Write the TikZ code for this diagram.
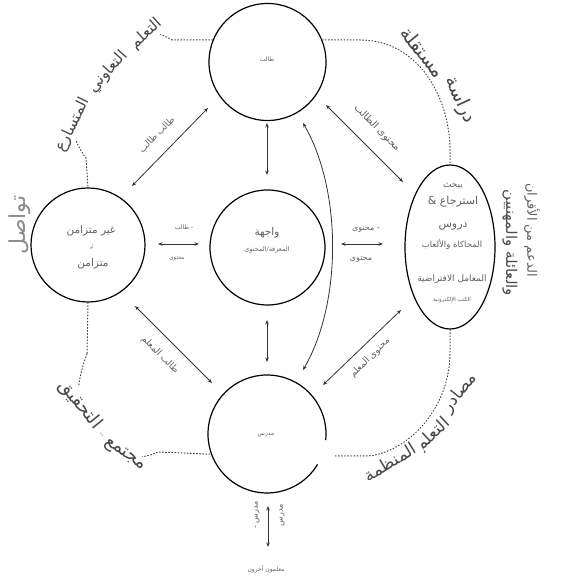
\documentclass[tikz,border=0pt]{standalone}
\usepackage{fontspec}
\setmainfont{DejaVu Sans}
\newfontfamily\ar[Script=Arabic]{DejaVu Sans}
\TeXXeTstate=1
\usetikzlibrary{arrows.meta,shapes.geometric}
\begin{document}
\begin{tikzpicture}[x=1pt,y=1pt,
  circ/.style={circle,draw=black,line width=1.2pt,inner sep=0pt},
  ell/.style={ellipse,draw=black,line width=1.2pt,inner sep=0pt},
  arr/.style={draw=black!80,line width=0.8pt,{Stealth[length=4.5pt,width=3.5pt]}-{Stealth[length=4.5pt,width=3.5pt]}},
  dotline/.style={draw=black!75,line width=1pt,dash pattern=on 0.9pt off 2.2pt,line cap=round},
  big/.style={text=black!72,font=\ar\fontsize{#1}{#1}\selectfont,inner ysep=2pt,inner xsep=6pt,fill=white},
  sm/.style={text=black!62,font=\ar\fontsize{#1}{#1}\selectfont,inner sep=1pt},
]
\useasboundingbox (0,0) rectangle (560,580);
\fill[white] (0,0) rectangle (560,580);

% main shapes
\node[circ,minimum size=117pt] (T) at (267.5,518) {};
\node[circ,minimum size=115pt] (C) at (267.5,332.5) {};
\node[circle,inner sep=0pt,minimum size=118pt] (B) at (267,146) {};
\draw[black,line width=1.2pt] ([shift={(-6:59pt)}]B.center) arc[start angle=-6,end angle=329,radius=59pt];
\node[circ,minimum size=114pt] (L) at (88,335) {};
\node[ell,minimum width=90pt,minimum height=164pt] (E) at (450,333) {};

% texts inside shapes
\node[sm=6] (tT) at (267,520) {طالب};
\node[sm=10.5] (tC1) at (267,347) {واجهة};
\node[sm=6.5] (tC2) at (267,330) {المعرفة/المحتوى};
\node[sm=6] (tB) at (266,145) {مدرس};
\node[sm=10.5] (tL1) at (91,349) {\beginR غير متزامن\endR};
\node[sm=4] (tL2) at (92,333) {أو};
\node[sm=10.5] (tL3) at (93,316) {متزامن};
\node[sm=9] (tE1) at (453,394) {يبحث};
\node[sm=11] (tE2) at (453,378) {\mbox{\&}\ \mbox{استرجاع}};
\node[sm=11] (tE3) at (453,353) {دروس};
\node[sm=8.5] (tE4) at (452,336) {\beginR المحاكاة والألعاب\endR};
\node[sm=9] (tE5) at (452,301) {\beginR المعامل الافتراضية\endR};
\node[sm=5.5] (tE6) at (452,280) {\beginR الكتب الإلكترونية\endR};

% arrows
\coordinate (a1) at (132,394); \coordinate (a2) at (208,472);
\coordinate (b1) at (326,475); \coordinate (b2) at (403,398);
\coordinate (c1) at (135,274); \coordinate (c2) at (212,197);
\coordinate (d1) at (323,195); \coordinate (d2) at (401,270);
\coordinate (e1) at (267,457); \coordinate (e2) at (267,405);
\coordinate (f1) at (267,260); \coordinate (f2) at (267,218);
\coordinate (g1) at (158,336); \coordinate (g2) at (199,336);
\coordinate (h1) at (341,336); \coordinate (h2) at (383,336);
\coordinate (k1) at (303,457); \coordinate (k2) at (303,210);
\coordinate (m1) at (268,74);  \coordinate (m2) at (268,33);
\draw[arr] (a1) -- (a2);
\draw[arr] (b1) -- (b2);
\draw[arr] (c1) -- (c2);
\draw[arr] (d1) -- (d2);
\draw[arr] (e1) -- (e2);
\draw[arr] (f1) -- (f2);
\draw[arr] (g1) -- (g2);
\draw[arr] (h1) -- (h2);
\draw[arr] (k1) .. controls (342,390) and (342,277) .. (k2);
\draw[arr] (m1) -- (m2);

% arrow labels
\node[sm=9,rotate=45] (la) at (157,445) {\beginR طالب طالب\endR};
\node[sm=10,rotate=-45] (lb) at (377,452) {\beginR محتوى الطالب\endR};
\node[sm=9,rotate=-45] (lc) at (160,225) {\beginR طالب المعلم\endR};
\node[sm=9,rotate=45] (ld) at (370,222) {\beginR محتوى المعلم\endR};
\node[sm=6] (lg1) at (184,352) {\mbox{طالب}\ \mbox{-}};
\node[sm=5.5] (lg2) at (177,321) {محتوى};
\node[sm=8] (lh1) at (366,350) {\mbox{محتوى}\ \mbox{-}};
\node[sm=8] (lh2) at (361,320) {محتوى};
\node[sm=8,rotate=90] (lm1) at (257,65) {\mbox{-}\ \mbox{مدرس}};
\node[sm=8,rotate=90] (lm2) at (282,65) {مدرس};
\node[sm=6] (lm3) at (266,11) {\beginR معلمون آخرون\endR};

% dotted connectors
\coordinate (q1) at (335,124);
\draw[dotline] (T.158) -- (172,540) plot[smooth,tension=0.6] coordinates {(172,540) (146,545) (108,508) (74,456) (86,422)} -- (L.north);
\draw[dotline] (T.22) -- (360,540) .. controls (420,540) and (450,480) .. (450,430) -- (E.north);
\draw[dotline] (L.south) -- (87,226) plot[smooth,tension=0.6] coordinates {(87,226) (80,176) (125,126) (158,128)} -- (B.200);
\draw[dotline] (E.south) -- (450,228) .. controls (450,165) and (400,124) .. (365,124) -- (q1);

% outer labels
\node[big=15.5,rotate=42] (o1) at (146,546) {التعلم};
\node[big=15.5,rotate=48] (o2) at (108,508) {التعاوني};
\node[big=15.5,rotate=64] (o3) at (73,455) {المتسارع};
\node[big=19,rotate=-51,fill=none] (o4) at (423,528) {مستقلة};
\node[big=19,rotate=-65,fill=none] (o5) at (460,480) {دراسة};
\node[big=18,rotate=-51] (o6) at (80,175) {التحقيق};
\node[big=18,rotate=-35] (o7) at (125,125) {مجتمع};
\node[big=17,rotate=51,fill=none] (o8) at (460,187) {مصادر};
\node[big=17,rotate=43] (o9) at (433,145) {التعلم};
\node[big=17,rotate=31] (o10) at (390,118) {المنظمة};
\node[text=black!45,font=\ar\fontsize{22}{22}\selectfont,rotate=90] (o11) at (20,355) {تواصل};
\node[sm=13,rotate=-90] (o12) at (532,350) {\beginR الدعم من الأقران\endR};
\node[sm=15,rotate=-90,text=black!70] (o13) at (510,337) {\beginR والعائلة والمهنيين\endR};
\end{tikzpicture}
\end{document}
